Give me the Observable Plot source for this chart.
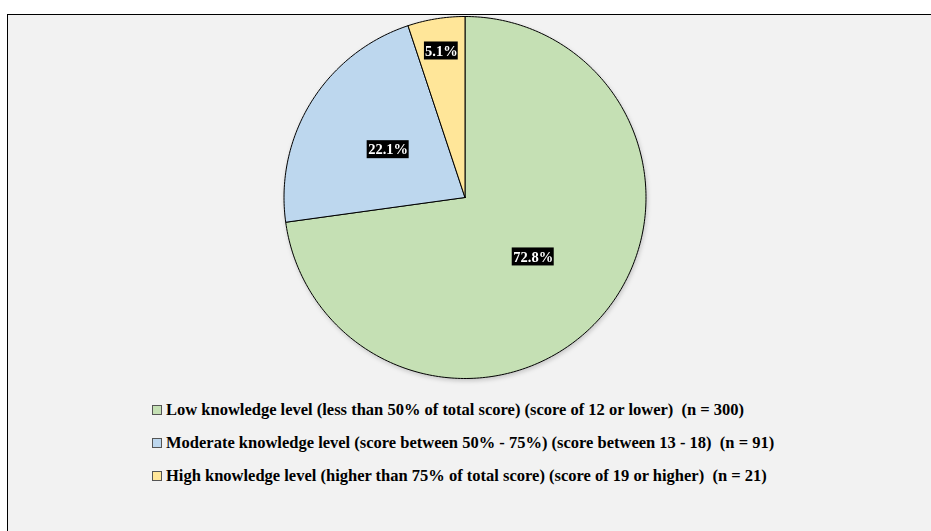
<!DOCTYPE html>
<html>
<head>
<meta charset="utf-8">
<script src="https://cdn.jsdelivr.net/npm/d3@7"></script>
<script src="https://cdn.jsdelivr.net/npm/@observablehq/plot@0.6"></script>
<style>
  html, body { margin: 0; padding: 0; background: #ffffff; }
  #page { position: relative; width: 931px; height: 531px; overflow: hidden; }
  #panel { position: absolute; left: 7px; top: 14px; width: 940px; height: 540px;
           background: #f2f2f2; border: 1.5px solid #000; box-sizing: border-box; }
  #chart { position: absolute; left: 0; top: 0; }
  #chart svg { filter: drop-shadow(1px 2px 2px rgba(0,0,0,0.18)); }
  #legend { position: absolute; left: 152px; top: 393px; font-family: "Liberation Serif", "Times New Roman", serif;
            font-weight: bold; font-size: 16.5px; color: #000; }
  .item { display: flex; align-items: center; height: 33px; white-space: pre; }
  .sw { width: 8px; height: 8px; border: 1px solid #555; margin-right: 4px; flex: none; }
</style>
</head>
<body>
<div id="page">
  <div id="panel"></div>
  <div id="chart"></div>
  <div id="legend"></div>
</div>
<script>
// Data
const categories = [
  "Low knowledge level (less than 50% of total score) (score of 12 or lower)  (n = 300)",
  "Moderate knowledge level (score between 50% - 75%) (score between 13 - 18)  (n = 91)",
  "High knowledge level (higher than 75% of total score) (score of 19 or higher)  (n = 21)"
];
const counts = [300, 91, 21];
const percentLabels = ["72.8%", "22.1%", "5.1%"];
const colors = ["#c5e0b4", "#bdd7ee", "#ffe699"];

const total = d3.sum(counts);
// slices clockwise from 12 o'clock
let acc = 0;
const slices = categories.map((c, i) => {
  const a0 = acc / total * 2 * Math.PI;
  acc += counts[i];
  const a1 = acc / total * 2 * Math.PI;
  return {category: c, a0, a1, share: counts[i] / total, label: percentLabels[i]};
});

// polygon points in unit-circle data coordinates
const pts = [];
for (const s of slices) {
  pts.push({category: s.category, x: 0, y: 0});
  const n = Math.max(4, Math.ceil((s.a1 - s.a0) / (Math.PI / 180)));
  for (let k = 0; k <= n; k++) {
    const a = s.a0 + (s.a1 - s.a0) * k / n;
    pts.push({category: s.category, x: Math.sin(a), y: Math.cos(a)});
  }
  pts.push({category: s.category, x: 0, y: 0});
}

const labels = slices.map(s => {
  const m = (s.a0 + s.a1) / 2;
  const r = s.share < 0.1 ? 0.82 : 0.5;
  return {label: s.label, x: r * Math.sin(m), y: r * Math.cos(m), w: s.label.length * 8.2 + 1};
});

const W = 931, H = 390;
const cx = 464.5, cy = 197, R = 181;

const chart = Plot.plot({
  width: W,
  height: H,
  marginLeft: cx - R,
  marginRight: W - (cx + R),
  marginTop: cy - R,
  marginBottom: H - (cy + R),
  x: {domain: [-1, 1], axis: null},
  y: {domain: [-1, 1], axis: null},
  color: {domain: categories, range: colors},
  style: {background: "transparent", overflow: "visible"},
  marks: [
    Plot.line(pts, {x: "x", y: "y", z: "category", fill: "category", stroke: "#000", strokeWidth: 1, curve: "linear", strokeLinejoin: "miter"}),
    ...labels.map(l => Plot.rect([l], {x1: "x", x2: "x", y1: "y", y2: "y", fill: "#000",
      insetLeft: -l.w / 2, insetRight: -l.w / 2, insetTop: -9, insetBottom: -9})),
    Plot.text(labels, {x: "x", y: "y", text: "label", fill: "#fff", fontSize: 14.5, fontWeight: "bold",
      fontFamily: "Liberation Serif, Times New Roman, serif"})
  ]
});
document.getElementById("chart").appendChild(chart);

const legend = document.getElementById("legend");
categories.forEach((c, i) => {
  const row = document.createElement("div");
  row.className = "item";
  const sw = document.createElement("span");
  sw.className = "sw";
  sw.style.background = colors[i];
  const t = document.createElement("span");
  t.textContent = c;
  row.appendChild(sw);
  row.appendChild(t);
  legend.appendChild(row);
});
</script>
</body>
</html>
